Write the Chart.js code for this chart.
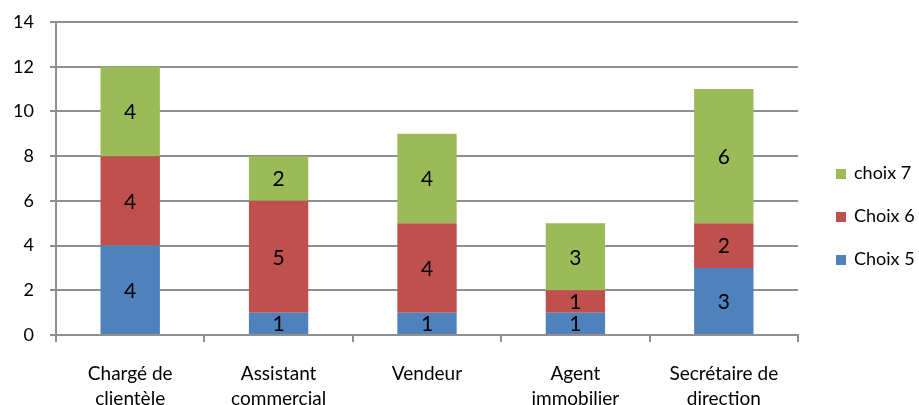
<!DOCTYPE html>
<html>
<head>
<meta charset="utf-8">
<script src="https://cdn.jsdelivr.net/npm/chart.js@4"></script>
<style>
  body { margin: 0; background: #fff; }
  #wrap { position: relative; width: 919px; height: 405px; }
  #legend { position: absolute; left: 836px; top: 161px; font: 18px Lato, sans-serif; color: #000; }
  #legend div { height: 43px; display: flex; align-items: flex-start; white-space: nowrap; }
  #legend span.box { width: 10px; height: 10px; margin-top: 8px; margin-right: 8px; display: inline-block; }
</style>
</head>
<body>
<div id="wrap">
  <canvas id="chart" width="919" height="405"></canvas>
  <div id="legend"></div>
</div>
<script>
// Categories and series
const categories = [
    ['Chargé de', 'clientèle'],
    ['Assistant', 'commercial'],
    ['Vendeur'],
    ['Agent', 'immobilier'],
    ['Secrétaire de', 'direction']
];
const choix5 = [4, 1, 1, 1, 3];
const choix6 = [4, 5, 4, 1, 2];
const choix7 = [4, 2, 4, 3, 6];
const yTicks = [0, 2, 4, 6, 8, 10, 12, 14];

const FONT = 'Lato, sans-serif';
const GRID = '#8f8f8f';

// Value labels in the middle of each segment
const barLabels = {
    id: 'barLabels',
    afterDatasetsDraw(chart) {
        const ctx = chart.ctx;
        ctx.save();
        ctx.font = '21px ' + FONT;
        ctx.fillStyle = '#000';
        ctx.textAlign = 'center';
        ctx.textBaseline = 'middle';
        chart.data.datasets.forEach((ds, i) => {
            chart.getDatasetMeta(i).data.forEach((bar, j) => {
                const mid = (bar.y + bar.base) / 2;
                ctx.fillText(ds.data[j], bar.x, mid + 1);
            });
        });
        ctx.restore();
    }
};

const datasets = [
    { label: 'Choix 5', data: choix5, backgroundColor: '#4F81BD' },
    { label: 'Choix 6', data: choix6, backgroundColor: '#C0504D' },
    { label: 'choix 7', data: choix7, backgroundColor: '#9BBB59' }
];

new Chart(document.getElementById('chart'), {
    type: 'bar',
    data: {
        labels: categories,
        datasets: datasets.map(d => Object.assign({
            categoryPercentage: 1,
            barPercentage: 0.4,
            borderWidth: 0
        }, d))
    },
    options: {
        responsive: false,
        animation: false,
        layout: { padding: { top: 22, right: 121, left: 0, bottom: 0 } },
        plugins: {
            legend: { display: false },
            tooltip: { enabled: false }
        },
        scales: {
            x: {
                stacked: true,
                afterFit(scale) {
                    scale.height = 70;
                    scale.paddingLeft = 0;
                    scale.paddingRight = 0;
                },
                grid: {
                    offset: true,
                    drawOnChartArea: false,
                    drawTicks: true,
                    tickLength: 7,
                    color: GRID,
                    lineWidth: 2
                },
                border: { color: GRID, width: 2 },
                ticks: {
                    color: '#000',
                    font: { family: FONT, size: 19, lineHeight: 1.32 },
                    padding: 19,
                    maxRotation: 0
                }
            },
            y: {
                stacked: true,
                min: 0,
                max: 14,
                afterFit(scale) {
                    scale.width = 56;
                    scale.paddingTop = 0;
                    scale.paddingBottom = 0;
                },
                afterBuildTicks(scale) { scale.ticks = yTicks.map(v => ({ value: v })); },
                grid: {
                    color: GRID,
                    lineWidth: 2,
                    tickLength: 6
                },
                border: { color: GRID, width: 2 },
                ticks: {
                    color: '#000',
                    font: { family: FONT, size: 18 },
                    padding: 16
                }
            }
        }
    },
    plugins: [barLabels]
});

// Legend, reversed like the original
const legend = document.getElementById('legend');
datasets.slice().reverse().forEach(d => {
    const row = document.createElement('div');
    const box = document.createElement('span');
    box.className = 'box';
    box.style.background = d.backgroundColor;
    row.appendChild(box);
    row.appendChild(document.createTextNode(d.label));
    legend.appendChild(row);
});
</script>
</body>
</html>
